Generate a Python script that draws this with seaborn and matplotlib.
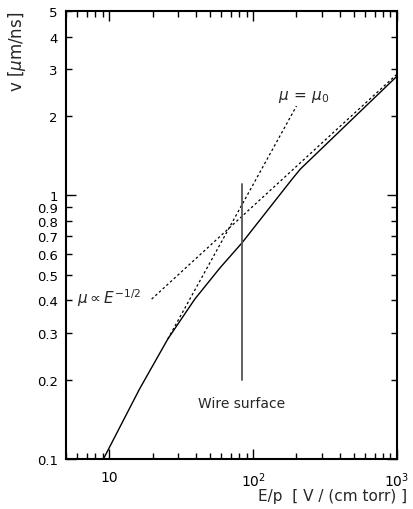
import numpy as np
import pandas as pd
import matplotlib
matplotlib.use("Agg")
import matplotlib.pyplot as plt
import seaborn as sns

# Drift velocity curve (solid)
curve_E = [9.1, 16.2, 25.5, 39.3, 58.7, 83.4, 186.8, 213.0, 477.0, 1000.0]
curve_v = [0.100, 0.184, 0.285, 0.404, 0.530, 0.659, 1.153, 1.258, 1.920, 2.830]

# Constant-mobility line (mu = mu0)
mu0_E = [25.5, 200.0]
mu0_v = [0.285, 2.18]

# mu ~ E^-1/2 line
half_E = [19.7, 1000.0]
half_v = [0.404, 2.88]

# Wire surface marker
wire_E = [83.0, 83.0]
wire_v = [0.2, 1.1]

y_major = [0.1, 1]
y_major_labels = ["0.1", "1"]
y_minor = [0.2, 0.3, 0.4, 0.5, 0.6, 0.7, 0.8, 0.9, 2, 3, 4, 5]
y_minor_labels = ["0.2", "0.3", "0.4", "0.5", "0.6", "0.7", "0.8", "0.9", "2", "3", "4", "5"]
x_major = [10, 100, 1000]
x_major_labels = ["10", "$10^2$", "$10^3$"]

sns.set_theme(style="ticks")
plt.rcParams['font.family'] = ['DejaVu Sans']
plt.rcParams['mathtext.fontset'] = 'dejavusans'

fig = plt.figure(figsize=(4.13, 5.10), dpi=100)
ax = fig.add_axes([66/413, 50/510, (397-66)/413, (460-12)/510])

df_curve = pd.DataFrame({"E": curve_E, "v": curve_v})
df_mu0 = pd.DataFrame({"E": mu0_E, "v": mu0_v})
df_half = pd.DataFrame({"E": half_E, "v": half_v})
df_wire = pd.DataFrame({"E": wire_E, "v": wire_v})

sns.lineplot(data=df_curve, x="E", y="v", ax=ax, color="black", lw=1.0, sort=False, estimator=None)
sns.lineplot(data=df_mu0, x="E", y="v", ax=ax, color="black", lw=0.9, sort=False, estimator=None,
             linestyle=(0, (2, 2)))
sns.lineplot(data=df_half, x="E", y="v", ax=ax, color="black", lw=0.9, sort=False, estimator=None,
             linestyle=(0, (2, 2)))
sns.lineplot(data=df_wire, x="E", y="v", ax=ax, color="#555555", lw=1.3, sort=False, estimator=None)

ax.set_xscale("log")
ax.set_yscale("log")
ax.set_xlim(5, 1000)
ax.set_ylim(0.1, 5)

ax.set_xticks(x_major)
ax.set_xticklabels(x_major_labels)
ax.set_yticks(y_major)
ax.set_yticklabels(y_major_labels)
ax.set_yticks(y_minor, minor=True)
ax.set_yticklabels(y_minor_labels, minor=True)
ax.xaxis.set_minor_locator(matplotlib.ticker.LogLocator(base=10, subs=np.arange(2, 10)))
ax.xaxis.set_minor_formatter(matplotlib.ticker.NullFormatter())

ax.tick_params(which="both", direction="in", top=True, right=True, color="black",
               labelsize=9.5, labelcolor="black", pad=6)
ax.tick_params(which="major", length=7, width=1.0)
ax.tick_params(which="minor", length=4, width=1.0)
ax.tick_params(axis="x", which="both", pad=8, labelsize=10)

for s in ax.spines.values():
    s.set_linewidth(1.5)
    s.set_color("black")

ax.set_xlabel("")
ax.set_ylabel("")

fig.text(407/413, 1 - 497/510, "E/p  [ V / (cm torr) ]", ha="right", va="center", fontsize=11)
fig.text(17/413, 1 - 12/510, "v [$\\mu$m/ns]", ha="center", va="top", rotation=90, fontsize=12)

ax.text(150, 2.38, "$\\mu\\,=\\,\\mu_0$", ha="left", va="center", fontsize=11)
ax.text(5.97, 0.41, "$\\mu \\propto E^{-1/2}$", ha="left", va="center", fontsize=11)
ax.text(83, 0.163, "Wire surface", ha="center", va="center", fontsize=10)

fig.savefig("out.png", dpi=100)
